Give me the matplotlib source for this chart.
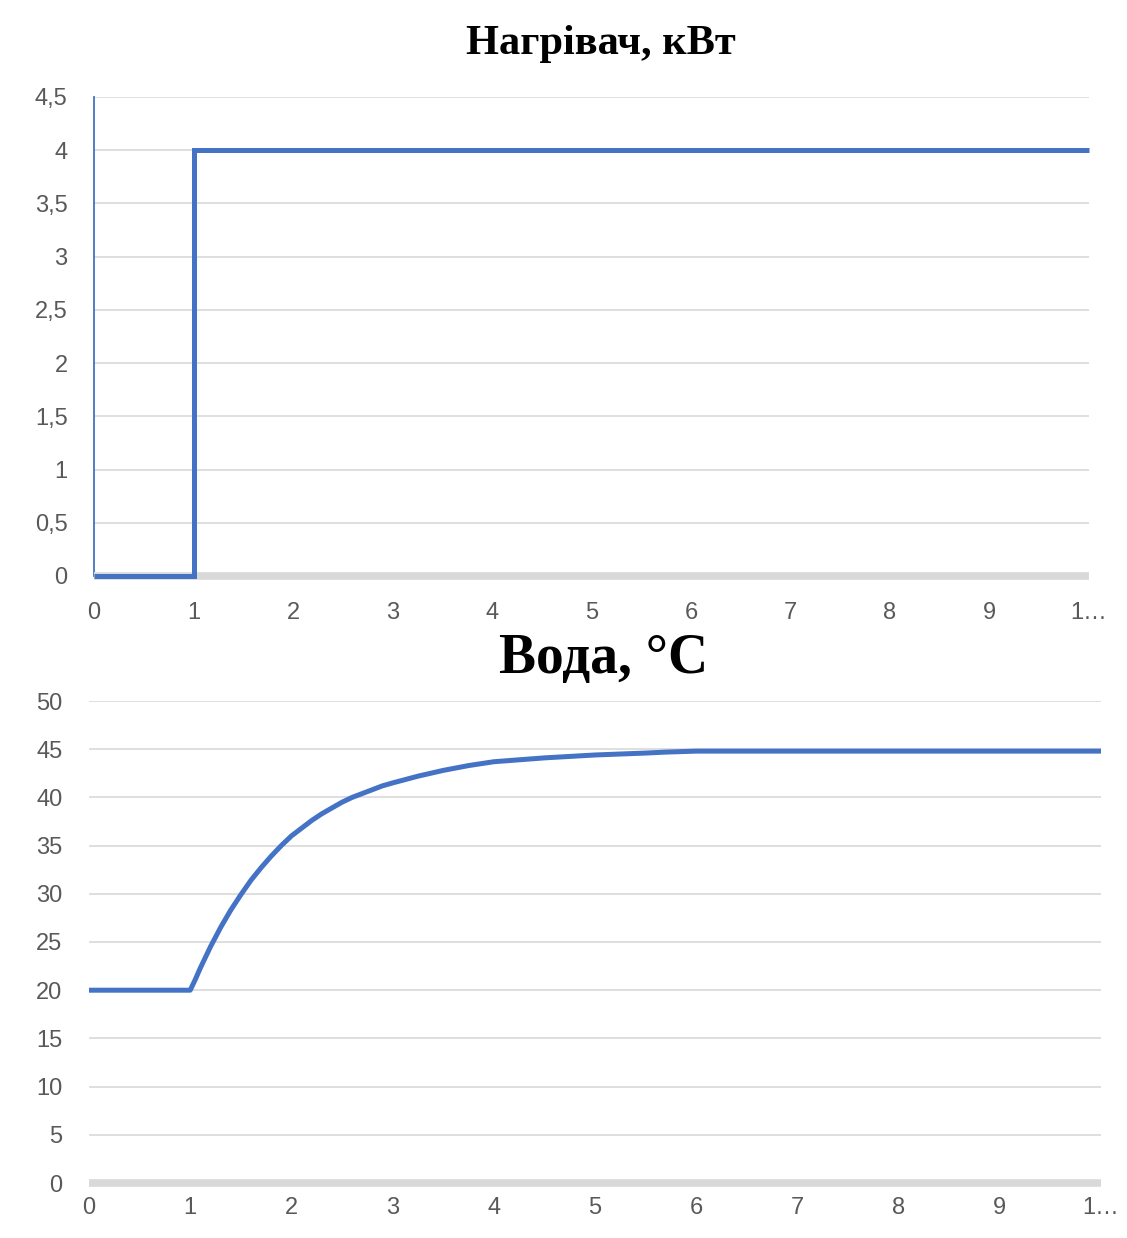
import matplotlib.pyplot as plt

# heater power, kW (step at t=1)
t_heat = [0, 1, 10]
p_heat = [0, 4, 4]

# water temperature, C
t_water = [0, 1, 1.05, 1.1, 1.2, 1.3, 1.4, 1.5, 1.6, 1.7, 1.8, 1.9, 2.0, 2.1, 2.2, 2.3, 2.4, 2.5, 2.6,
           2.7, 2.8, 2.9, 3.0, 3.25, 3.5, 3.75, 4.0, 4.5, 5.0, 5.5, 5.7, 6, 7, 8, 9, 10]
temp_water = [20, 20, 21.1, 22.3, 24.5, 26.5, 28.3, 29.9, 31.4, 32.7, 33.9, 35.0, 36.0, 36.8, 37.6,
              38.3, 38.9, 39.5, 40.0, 40.4, 40.8, 41.2, 41.5, 42.2, 42.8, 43.3, 43.7, 44.1, 44.4,
              44.6, 44.7, 44.8, 44.8, 44.8, 44.8, 44.8]

x_ticks = list(range(11))
x_labels = [str(i) for i in range(10)] + ["1…"]

top_yticks = [0, 0.5, 1, 1.5, 2, 2.5, 3, 3.5, 4, 4.5]
top_ylabels = ["0", "0,5", "1", "1,5", "2", "2,5", "3", "3,5", "4", "4,5"]
bot_yticks = list(range(0, 55, 5))

BLUE = "#4472C4"
GRID = "#D9D9D9"
TXT = "#595959"

plt.rcParams['font.family'] = ['Liberation Sans', 'DejaVu Sans']

fig = plt.figure(figsize=(11.27, 12.38), dpi=100)
ax1 = fig.add_axes([94 / 1127, 1 - 576 / 1238, (1089 - 94) / 1127, (576 - 97) / 1238])
ax2 = fig.add_axes([89 / 1127, 1 - 1183 / 1238, (1101 - 89) / 1127, (1183 - 701) / 1238])


def style(ax, yticks, ylabels, ylim, xpad):
    ax.set_xlim(0, 10)
    ax.set_ylim(*ylim)
    ax.set_xticks(x_ticks)
    ax.set_xticklabels(x_labels)
    ax.set_yticks(yticks)
    ax.set_yticklabels(ylabels)
    ax.grid(axis='y', color=GRID, linewidth=1.2)
    ax.set_axisbelow(True)
    for s in ['top', 'right', 'left']:
        ax.spines[s].set_visible(False)
    ax.spines['bottom'].set_color(GRID)
    ax.spines['bottom'].set_linewidth(5.5)
    ax.spines['bottom'].set_capstyle('butt')
    ax.tick_params(length=0, labelsize=17, colors=TXT)
    ax.tick_params(axis='y', pad=19)
    ax.tick_params(axis='x', pad=xpad)


style(ax1, top_yticks, top_ylabels, (0, 4.5), 19)
ax1.spines['left'].set_visible(True)
ax1.spines['left'].set_color(BLUE)
ax1.spines['left'].set_linewidth(1.3)
ax1.plot(t_heat, p_heat, drawstyle='steps-post', color=BLUE, linewidth=3.6,
         solid_joinstyle='miter', solid_capstyle='butt', clip_on=False, zorder=3)

style(ax2, bot_yticks, [str(v) for v in bot_yticks], (0, 50), 10)
ax2.plot(t_water, temp_water, color=BLUE, linewidth=3.6, solid_capstyle='butt',
         clip_on=False, zorder=3)

fig.text(601 / 1127, 1 - 44 / 1238, "Нагрівач, кВт", ha='center', va='center',
         family=['Liberation Serif', 'DejaVu Serif'], weight='bold', fontsize=30.5)
fig.text(604 / 1127, 1 - 659 / 1238, "Вода, °С", ha='center', va='center',
         family=['Liberation Serif', 'DejaVu Serif'], weight='bold', fontsize=40)

fig.savefig("out.png", dpi=100)
